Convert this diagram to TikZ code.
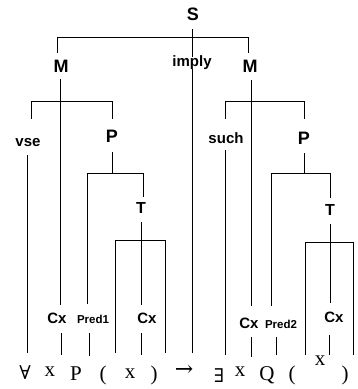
\documentclass[tikz,border=0pt]{standalone}
\usepackage{fontspec}
\newfontfamily\lab{Liberation Sans}
\newfontfamily\ser{Liberation Serif}
\newfontfamily\symf{DejaVu Serif}
\tikzset{
  ln/.style={line width=0.8pt, draw=black},
  lbl/.style={font=\lab\bfseries\fontsize{18}{18}\selectfont, inner sep=0pt},
  tlbl/.style={font=\lab\bfseries\fontsize{16}{16}\selectfont, inner sep=0pt},
  wrd/.style={font=\lab\bfseries\fontsize{15}{16}\selectfont, inner sep=0pt},
  cx/.style={font=\lab\bfseries\fontsize{15}{15}\selectfont, inner sep=0pt},
  prd/.style={font=\lab\bfseries\fontsize{11.5}{12}\selectfont, inner sep=0pt},
  tok/.style={font=\ser\fontsize{21}{21}\selectfont, inner sep=0pt, anchor=base},
  stok/.style={font=\symf\fontsize{19}{19}\selectfont, inner sep=0pt, anchor=base},
  atok/.style={font=\symf\fontsize{22}{22}\selectfont, inner sep=0pt, anchor=base},
}
\begin{document}
\begin{tikzpicture}[x=1pt,y=-1pt]
\useasboundingbox (0,0) rectangle (358,389);
% labels
\node[lbl] (S) at (193,14) {S};
\node[wrd] (imply) at (192,63) {imply};
\node[lbl] (M1) at (61,66) {M};
\node[lbl] (M2) at (250,66) {M};
\node[wrd] (vse) at (28,143) {vse};
\node[lbl] (P1) at (112,136) {P};
\node[wrd] (such) at (226,138) {such};
\node[lbl] (P2) at (304,138) {P};
\node[tlbl] (T1) at (141,208) {T};
\node[tlbl] (T2) at (330,210) {T};
\node[cx] (c1) at (57,318) {Cx};
\node[prd] (p1) at (93,319) {Pred1};
\node[cx] (c2) at (147,318) {Cx};
\node[cx] (c3) at (249,323) {Cx};
\node[prd] (p2) at (281,324) {Pred2};
\node[cx] (c4) at (334,317) {Cx};
% bottom tokens
\node[stok] (fa) at (25,379) {∀};
\node[tok] (x1) at (50,376) {x};
\node[tok] (tP) at (76,380) {P};
\node[tok] (lp1) at (103,380) {(};
\node[tok] (x2) at (130,378) {x};
\node[tok] (rp1) at (154,380) {)};
\node[atok] (ar) at (184,376) {→};
\node[stok] (ex) at (219,382) {∃};
\node[tok] (x3) at (240,376) {x};
\node[tok] (tQ) at (267,380) {Q};
\node[tok] (lp2) at (292,380) {(};
\node[tok] (x4) at (320,365) {x};
\node[tok] (rp2) at (345,380) {)};
% coordinates
\coordinate (tL) at (57,37);
\coordinate (tR) at (248,37);
\coordinate (Sb) at (192,29);
\coordinate (It) at (192,57);
\coordinate (Ib) at (192,69);
\coordinate (Ie) at (192,353);
\coordinate (M1t) at (57,53);
\coordinate (M1b) at (60,79);
\coordinate (c1t) at (60,305);
\coordinate (bM1L) at (31,101);
\coordinate (bM1R) at (112,101);
\coordinate (vset) at (31,119);
\coordinate (vseb) at (27,155);
\coordinate (vsee) at (27,353);
\coordinate (P1t) at (112,119);
\coordinate (P1b) at (112,152);
\coordinate (bP1) at (112,173);
\coordinate (bP1L) at (87,173);
\coordinate (bP1R) at (143,173);
\coordinate (p1t) at (87,304);
\coordinate (T1t) at (143,197);
\coordinate (T1b) at (141,222);
\coordinate (bT1) at (141,240);
\coordinate (c2t) at (141,305);
\coordinate (bT1L) at (115,240);
\coordinate (bT1R) at (165,240);
\coordinate (lp1e) at (115,353);
\coordinate (rp1e) at (165,353);
\coordinate (c1b) at (61,333);
\coordinate (x1e) at (61,355);
\coordinate (p1b) at (89,333);
\coordinate (tPe) at (89,356);
\coordinate (c2b) at (141,333);
\coordinate (x2e) at (141,355);
% right
\coordinate (M2t) at (248,53);
\coordinate (M2b) at (251,80);
\coordinate (c3t) at (251,306);
\coordinate (bM2L) at (225,101);
\coordinate (bM2R) at (304,101);
\coordinate (sucht) at (225,119);
\coordinate (suchb) at (225,150);
\coordinate (suche) at (225,355);
\coordinate (P2t) at (304,119);
\coordinate (P2b) at (304,153);
\coordinate (bP2) at (304,173);
\coordinate (bP2L) at (271,173);
\coordinate (bP2R) at (330,173);
\coordinate (p2t) at (271,306);
\coordinate (T2t) at (330,198);
\coordinate (T2b) at (330,224);
\coordinate (bT2) at (330,242);
\coordinate (c4t) at (330,303);
\coordinate (bT2L) at (305,242);
\coordinate (bT2R) at (353,242);
\coordinate (lp2e) at (305,355);
\coordinate (rp2e) at (353,355);
\coordinate (c3b) at (251,337);
\coordinate (x3e) at (251,357);
\coordinate (p2b) at (276,337);
\coordinate (tQe) at (276,355);
\coordinate (c4b) at (329,335);
\coordinate (x4e) at (329,355);
% connectors
\draw[ln] (tL) -- (tR);
\draw[ln] (Sb) -- (It);
\draw[ln] (Ib) -- (Ie);
\draw[ln] (tL) -- (M1t);
\draw[ln] (M1b) -- (c1t);
\draw[ln] (bM1L) -- (bM1R);
\draw[ln] (bM1L) -- (vset);
\draw[ln] (vseb) -- (vsee);
\draw[ln] (bM1R) -- (P1t);
\draw[ln] (P1b) -- (bP1);
\draw[ln] (bP1L) -- (bP1R);
\draw[ln] (bP1L) -- (p1t);
\draw[ln] (bP1R) -- (T1t);
\draw[ln] (T1b) -- (c2t);
\draw[ln] (bT1L) -- (bT1R);
\draw[ln] (bT1L) -- (lp1e);
\draw[ln] (bT1R) -- (rp1e);
\draw[ln] (c1b) -- (x1e);
\draw[ln] (p1b) -- (tPe);
\draw[ln] (c2b) -- (x2e);
\draw[ln] (tR) -- (M2t);
\draw[ln] (M2b) -- (c3t);
\draw[ln] (bM2L) -- (bM2R);
\draw[ln] (bM2L) -- (sucht);
\draw[ln] (suchb) -- (suche);
\draw[ln] (bM2R) -- (P2t);
\draw[ln] (P2b) -- (bP2);
\draw[ln] (bP2L) -- (bP2R);
\draw[ln] (bP2L) -- (p2t);
\draw[ln] (bP2R) -- (T2t);
\draw[ln] (T2b) -- (c4t);
\draw[ln] (bT2L) -- (bT2R);
\draw[ln] (bT2L) -- (lp2e);
\draw[ln] (bT2R) -- (rp2e);
\draw[ln] (c3b) -- (x3e);
\draw[ln] (p2b) -- (tQe);
\draw[ln] (c4b) -- (x4e);
\end{tikzpicture}
\end{document}
